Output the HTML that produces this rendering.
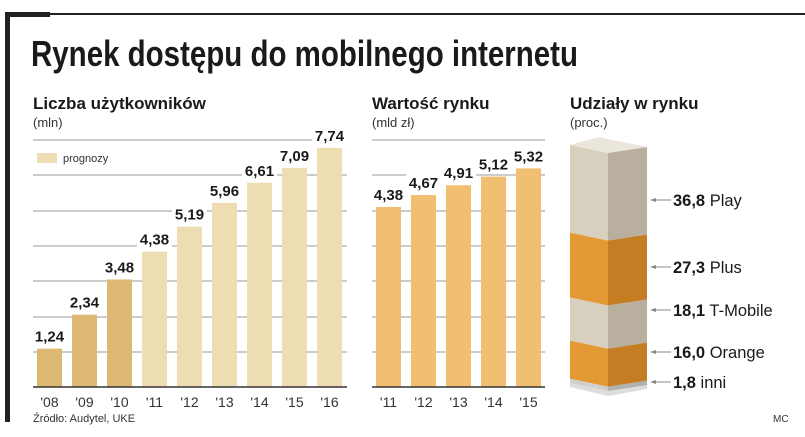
<!DOCTYPE html>
<html><head><meta charset="utf-8"><style>
body{margin:0;width:805px;height:437px;background:#fff;overflow:hidden;font-family:"Liberation Sans",sans-serif;}
svg{display:block}
</style></head><body>
<svg width="805" height="437" id="svg">
<rect x="5" y="13" width="800" height="2" fill="#222"/>
<rect x="5" y="12" width="45" height="5" fill="#222"/>
<rect x="5" y="12" width="5" height="410" fill="#222"/>
<text x="31" y="66" font-family="Liberation Sans Narrow, Liberation Sans, sans-serif" font-weight="bold" font-size="36" textLength="547" lengthAdjust="spacingAndGlyphs" fill="#1a1a1a">Rynek dostępu do mobilnego internetu</text>
<text x="33" y="109" font-weight="bold" font-size="17" fill="#1a1a1a">Liczba użytkowników</text>
<text x="33" y="127" font-size="13" fill="#333">(mln)</text>
<text x="372" y="109" font-weight="bold" font-size="17" fill="#1a1a1a">Wartość rynku</text>
<text x="372" y="127" font-size="13" fill="#333">(mld zł)</text>
<text x="570" y="109" font-weight="bold" font-size="17" fill="#1a1a1a">Udziały w rynku</text>
<text x="570" y="127" font-size="13" fill="#333">(proc.)</text>
<g id="g1"></g><g id="g2"></g><g id="g3"></g>
<rect x="37" y="153" width="20" height="10" fill="#eedcb2"/>
<text x="63" y="162" font-size="11" fill="#333">prognozy</text>
<text x="33" y="422" font-size="11" fill="#333">Źródło: Audytel, UKE</text>
<text x="773" y="422" font-size="10" fill="#333">MC</text>
</svg>
<script>
const userYears=["'08","'09","'10","'11","'12","'13","'14","'15","'16"];
const userValues=[1.24,2.34,3.48,4.38,5.19,5.96,6.61,7.09,7.74];
const userLabels=["1,24","2,34","3,48","4,38","5,19","5,96","6,61","7,09","7,74"];
const userForecastFrom=3;
const valueYears=["'11","'12","'13","'14","'15"];
const marketValues=[4.38,4.67,4.91,5.12,5.32];
const marketLabels=["4,38","4,67","4,91","5,12","5,32"];
const shareNames=["Play","Plus","T-Mobile","Orange","inni"];
const shareValues=[36.8,27.3,18.1,16.0,1.8];
const shareLabels=["36,8","27,3","18,1","16,0","1,8"];
const NS="http://www.w3.org/2000/svg";
function mk(p,t,a){const e=document.createElementNS(NS,t);for(const k in a)e.setAttribute(k,a[k]);p.appendChild(e);return e;}
const base=387, gridYs=[140,175,211,246,281,317,352];
// chart 1
const g1=document.getElementById('g1');
const y1=v=>base-v*30.9, x1=i=>37+i*35;
gridYs.forEach(y=>{const l=mk(g1,'line',{x1:33,x2:347,y1:y,y2:y,stroke:'#999','stroke-width':1});

});
userValues.forEach((v,i)=>{
 const r=mk(g1,'rect',{x:x1(i),y:y1(v),width:25,height:base-y1(v),fill:i<userForecastFrom?'#dcb872':'#eedcb2'});
 
 
 const lb=mk(g1,'rect',{x:x1(i)-5,y:y1(v)-22,width:35,height:18,fill:'#fff'});
 
 
 const t=mk(g1,'text',{x:x1(i)+12.5,y:y1(v)-7,'text-anchor':'middle','font-size':15,'font-weight':'bold',fill:'#1a1a1a'});t.textContent=userLabels[i];
 
 
 const a=mk(g1,'text',{x:x1(i)+12.5,y:407,'text-anchor':'middle','font-size':14,fill:'#333'});a.textContent=userYears[i];
 
 
});
const b1=mk(g1,'line',{x1:33,x2:347,y1:base,y2:base,stroke:'#333','stroke-width':1.5});


// chart 2
const g2=document.getElementById('g2');
const y2=v=>base-v*41.1, x2=i=>376+i*35;
gridYs.forEach(y=>{const l=mk(g2,'line',{x1:372,x2:545,y1:y,y2:y,stroke:'#999','stroke-width':1});

});
marketValues.forEach((v,i)=>{
 const r=mk(g2,'rect',{x:x2(i),y:y2(v),width:25,height:base-y2(v),fill:'#f1bf72'});
 
 
 const lb=mk(g2,'rect',{x:x2(i)-5,y:y2(v)-22,width:35,height:18,fill:'#fff'});
 
 
 const t=mk(g2,'text',{x:x2(i)+12.5,y:y2(v)-7,'text-anchor':'middle','font-size':15,'font-weight':'bold',fill:'#1a1a1a'});t.textContent=marketLabels[i];
 
 
 const a=mk(g2,'text',{x:x2(i)+12.5,y:407,'text-anchor':'middle','font-size':14,fill:'#333'});a.textContent=valueYears[i];
 
 
});
const b2=mk(g2,'line',{x1:372,x2:545,y1:base,y2:base,stroke:'#333','stroke-width':1.5});


// chart 3 stacked block (isometric: front edge at x=608 sits 8px lower)
const g3=document.getElementById('g3');
const top3=145, bot3=383, tot=shareValues.reduce((a,b)=>a+b,0);
const XL=570, XC=608, XR=647, DC=8, DR=2;
const fronts=['#d8d0bf','#e39a34','#d8d0bf','#e39a34','#cfcfcf'];
const sides=['#b8af9e','#c47d22','#b8af9e','#c47d22','#b0b0b0'];
const labelYs=[200,267,310,352,382];
const shadow=mk(g3,'polygon',{points:`${XL},${bot3} ${XC},${bot3+DC} ${XR},${bot3+DR} ${XR},${bot3+DR+4} ${XC},${bot3+DC+5} ${XL},${bot3+4}`,fill:'#ddd'});


const blockTop=mk(g3,'polygon',{points:`${XL},${top3} ${XC-10},${top3-8} ${XR},${top3+DR} ${XC},${top3+DC}`,fill:'#ebe6da'});


let acc=0;
shareValues.forEach((v,i)=>{
 const yT=top3+acc/tot*(bot3-top3); acc+=v; const yB=top3+acc/tot*(bot3-top3);
 const f=mk(g3,'polygon',{points:`${XL},${yT} ${XC},${yT+DC} ${XC},${yB+DC} ${XL},${yB}`,fill:fronts[i]});
 
 
 const s=mk(g3,'polygon',{points:`${XC},${yT+DC} ${XR},${yT+DR} ${XR},${yB+DR} ${XC},${yB+DC}`,fill:sides[i]});
 
 
 const ly=labelYs[i];
 const ln=mk(g3,'line',{x1:652,x2:671,y1:ly,y2:ly,stroke:'#888','stroke-width':1});
 
 
 const ah=mk(g3,'polygon',{points:`650,${ly} 656,${ly-2} 656,${ly+2}`,fill:'#888'});
 
 
 const t=mk(g3,'text',{x:673,y:ly+6,'font-size':16.5,fill:'#1a1a1a'});
 const b=mk(t,'tspan',{'font-weight':'bold'});b.textContent=shareLabels[i];
 const n=mk(t,'tspan',{});n.textContent=' '+shareNames[i];
 
 
});
</script>
</body></html>
